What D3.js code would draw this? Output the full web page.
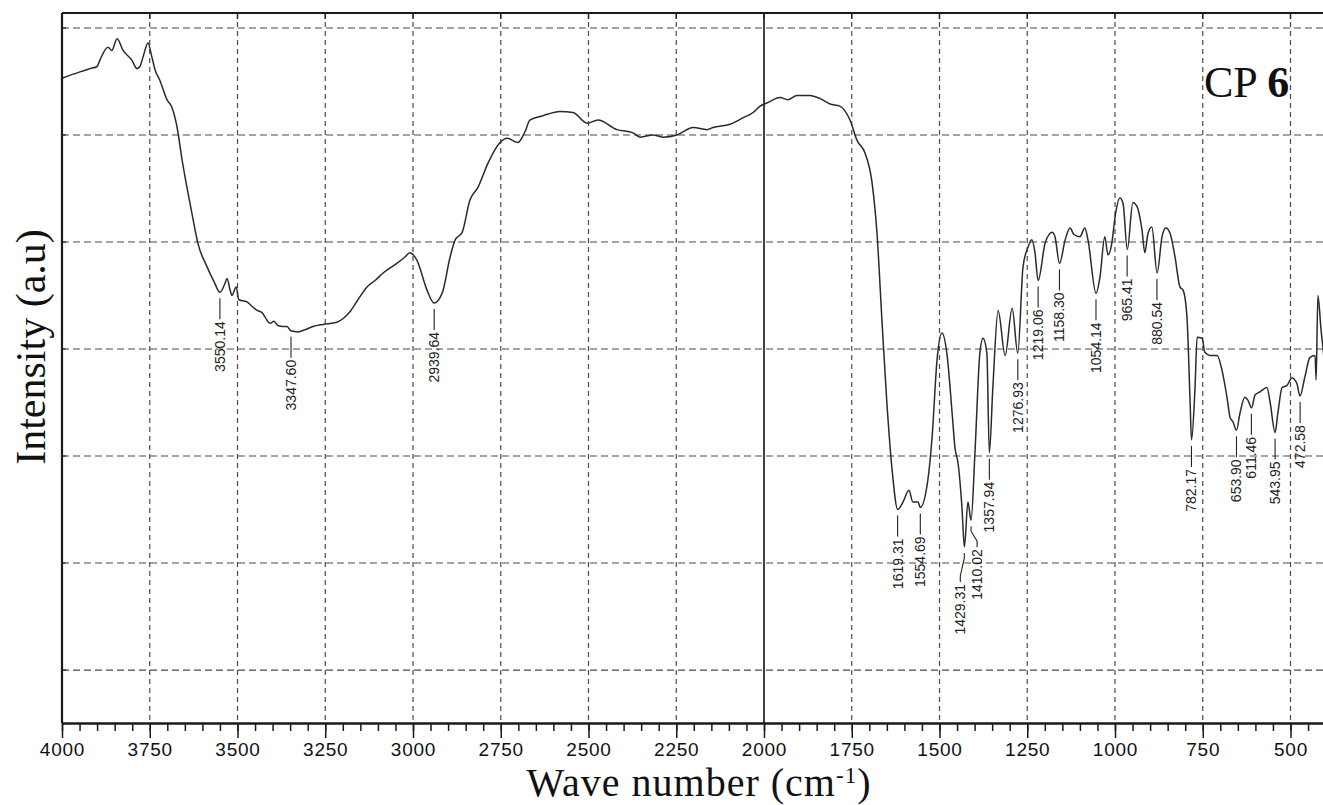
<!DOCTYPE html>
<html>
<head>
<meta charset="utf-8">
<script src="https://cdn.jsdelivr.net/npm/d3@7"></script>
<style>
  html, body { margin: 0; padding: 0; background: #fff; overflow: hidden; }
  svg { display: block; }
</style>
</head>
<body>
<svg id="chart" width="1323" height="805"></svg>
<script>
// FTIR spectrum of CP 6: [wavenumber (cm-1), intensity (a.u.)]
const spectrumPoints = [
  [4000,65.3],[3949,65.9],[3920,66.2],[3900,66.4],[3892,67.0],[3869,68.2],[3858,67.9],[3843,69.0],
  [3826,67.9],[3801,67.0],[3786,66.2],[3778,66.4],[3769,67.3],[3755,68.6],[3744,67.3],[3735,66.1],
  [3721,65.1],[3701,63.3],[3687,62.6],[3672,60.7],[3658,57.7],[3644,55.1],[3630,52.7],[3613,49.9],
  [3587,47.7],[3567,46.3],[3550,45.3],[3536,46.1],[3530,46.6],[3521,45.5],[3516,45.0],[3504,45.8],
  [3496,44.6],[3473,44.4],[3459,44.0],[3444,43.6],[3430,43.4],[3422,43.0],[3407,42.4],[3396,42.6],
  [3385,42.2],[3370,42.1],[3359,42.1],[3348,41.7],[3328,41.6],[3308,41.8],[3285,42.1],[3256,42.3],
  [3217,42.5],[3197,42.9],[3179,43.5],[3157,44.6],[3131,45.8],[3108,46.4],[3085,47.1],[3046,48.0],
  [3023,48.6],[3009,49.0],[2989,48.3],[2960,45.5],[2940,44.3],[2923,44.8],[2915,45.4],[2895,48.5],
  [2880,50.2],[2860,50.9],[2838,53.9],[2815,55.1],[2786,57.4],[2752,59.3],[2732,59.7],[2701,59.3],
  [2681,60.3],[2667,61.4],[2630,61.8],[2581,62.2],[2544,62.1],[2504,61.1],[2473,61.4],[2419,60.5],
  [2373,60.2],[2353,59.8],[2316,60.0],[2288,59.8],[2248,60.0],[2202,60.7],[2162,60.5],[2145,60.7],
  [2097,61.0],[2060,61.6],[2031,62.1],[2011,62.7],[1991,63.0],[1954,63.5],[1932,63.3],[1906,63.7],
  [1869,63.7],[1840,63.4],[1812,62.9],[1784,62.7],[1755,61.4],[1735,59.5],[1712,58.3],[1692,55.5],
  [1678,50.8],[1664,42.7],[1650,35.0],[1635,28.7],[1619,25.0],[1604,25.7],[1587,26.8],[1576,25.7],
  [1561,25.7],[1555,25.2],[1533,27.8],[1521,31.8],[1507,39.0],[1493,41.5],[1479,39.6],[1464,34.0],
  [1456,30.8],[1447,29.3],[1436,25.2],[1429,21.5],[1419,25.7],[1410,24.0],[1399,30.3],[1385,39.6],
  [1376,41.0],[1365,39.6],[1358,30.3],[1348,36.4],[1333,43.6],[1313,39.4],[1293,43.8],[1277,39.6],
  [1262,47.7],[1248,49.5],[1237,50.2],[1228,49.0],[1219,46.4],[1199,49.9],[1179,50.9],[1171,50.5],
  [1158,48.0],[1142,50.2],[1128,51.3],[1117,50.7],[1100,50.5],[1086,51.3],[1077,50.2],[1054,45.2],
  [1043,46.7],[1029,50.5],[1020,48.8],[1009,49.9],[1000,52.3],[986,54.1],[977,53.6],[965,49.3],
  [949,53.7],[937,53.3],[923,51.1],[915,49.0],[906,50.8],[895,51.4],[880,47.1],[866,50.5],
  [855,51.3],[843,50.8],[829,48.6],[815,45.8],[806,45.5],[795,43.0],[786,35.0],[782,31.5],
  [772,36.4],[766,41.1],[752,41.0],[744,39.7],[729,39.4],[709,39.4],[695,38.0],[681,35.5],
  [672,33.6],[664,33.2],[654,32.4],[644,34.0],[630,35.5],[621,35.2],[611,34.5],[601,35.7],
  [587,36.0],[567,36.4],[558,35.0],[544,32.2],[536,34.0],[524,36.4],[510,36.6],[496,37.3],
  [482,36.8],[473,35.6],[459,37.4],[445,39.2],[430,39.4],[427,37.1],[422,45.0],[413,41.8],
  [402,38.3],[400,37.5]
];

// Assigned absorption bands (cm-1)
const peakLabels = [
  "3550.14","3347.60","2939.64","1619.31","1554.69","1429.31","1410.02","1357.94",
  "1276.93","1219.06","1158.30","1054.14","965.41","880.54","782.17","653.90",
  "611.46","543.95","472.58"
];

const majorTicks = [4000,3750,3500,3250,3000,2750,2500,2250,2000,1750,1500,1250,1000,750,500];
const minorTicks = d3.range(4000, 399, -50);
const gridLevels = [10,20,30,40,50,60,70];
const splitWavenumber = 2000;

const xTitle = "Wave number (cm";
const yTitle = "Intensity (a.u)";
const sampleName = "CP";
const sampleNumber = "6";

// ---- layout ----
const svg = d3.select("#chart");
const plotLeft = 62, plotTop = 13, plotBottom = 723, plotRight = 1323;

const x = d3.scaleLinear().domain([4000, 400]).range([plotLeft, 1325.6]);
const y = d3.scaleLinear().domain([5.05, 71.4]).range([plotBottom, plotTop]);

const sans = "'Liberation Sans', Arial, Helvetica, sans-serif";
const serif = "'Liberation Serif', 'Times New Roman', Times, serif";
const gridColor = "#4a4a4a";

// grid
const grid = svg.append("g");
grid.selectAll("line.h").data(gridLevels).join("line")
  .attr("x1", plotLeft).attr("x2", plotRight)
  .attr("y1", d => y(d)).attr("y2", d => y(d))
  .attr("stroke", gridColor).attr("stroke-width", 1.2)
  .attr("stroke-dasharray", "7,4");
grid.selectAll("line.v").data(majorTicks.filter(d => d !== 4000 && d !== splitWavenumber)).join("line")
  .attr("x1", d => x(d)).attr("x2", d => x(d))
  .attr("y1", plotTop).attr("y2", plotBottom)
  .attr("stroke", gridColor).attr("stroke-width", 1.2)
  .attr("stroke-dasharray", "5,4");

// solid separator at 2000 cm-1
svg.append("line")
  .attr("x1", x(splitWavenumber)).attr("x2", x(splitWavenumber))
  .attr("y1", plotTop).attr("y2", plotBottom)
  .attr("stroke", "#111").attr("stroke-width", 1.6);

// top frame ticks
svg.append("g").selectAll("line").data(majorTicks.slice(1)).join("line")
  .attr("x1", d => x(d)).attr("x2", d => x(d))
  .attr("y1", plotTop).attr("y2", plotTop + 6)
  .attr("stroke", "#222").attr("stroke-width", 1.4);

// left frame ticks
svg.append("g").selectAll("line").data(gridLevels).join("line")
  .attr("x1", plotLeft).attr("x2", plotLeft + 4)
  .attr("y1", d => y(d)).attr("y2", d => y(d))
  .attr("stroke", "#222").attr("stroke-width", 1.2);

// spectrum
const spectrumLine = d3.line()
  .x(d => x(d[0])).y(d => y(d[1]))
  .curve(d3.curveMonotoneX);
svg.append("path")
  .datum(spectrumPoints)
  .attr("d", spectrumLine)
  .attr("fill", "none")
  .attr("stroke", "#2a2a2a")
  .attr("stroke-width", 1.5)
  .attr("stroke-linejoin", "round");

// frame
svg.append("line").attr("x1", plotLeft).attr("x2", plotRight).attr("y1", plotTop).attr("y2", plotTop)
  .attr("stroke", "#1a1a1a").attr("stroke-width", 2.2);
svg.append("line").attr("x1", plotLeft).attr("x2", plotLeft).attr("y1", plotTop).attr("y2", plotBottom)
  .attr("stroke", "#1a1a1a").attr("stroke-width", 2.2);

// bottom axis: minor then major ticks
const minorAxis = d3.axisBottom(x).tickValues(minorTicks).tickSize(8).tickSizeOuter(0).tickFormat("");
const majorAxis = d3.axisBottom(x).tickValues(majorTicks).tickSize(15).tickSizeOuter(0).tickPadding(4)
  .tickFormat(d3.format("d"));

const gMinor = svg.append("g").attr("transform", `translate(0,${plotBottom})`).call(minorAxis);
const gMajor = svg.append("g").attr("transform", `translate(0,${plotBottom})`).call(majorAxis);
[gMinor, gMajor].forEach(g => {
  g.select(".domain").attr("stroke", "#1a1a1a").attr("stroke-width", 1.8);
  g.selectAll(".tick line").attr("stroke", "#1a1a1a").attr("stroke-width", 1.5);
});
gMajor.selectAll(".tick text")
  .attr("fill", "#111")
  .attr("font-family", sans)
  .attr("font-size", 19)
  .attr("letter-spacing", "0.8px")
  .attr("dy", "0.72em");

// peak annotations
const layoutTweaks = { "1429.31": { drop: 8, dx: -4 }, "1410.02": { drop: 0, dx: 6 } };
const nearestValue = w => spectrumPoints.reduce((a, b) => Math.abs(b[0] - w) < Math.abs(a[0] - w) ? b : a)[1];
const ann = svg.append("g");
peakLabels.forEach(lbl => {
  const w = +lbl;
  const t = layoutTweaks[lbl] || { drop: 0, dx: 0 };
  const xp = x(w);
  const y0 = y(nearestValue(w)) + 6;
  const y1 = y0 + 21 + t.drop;
  const xt = xp + t.dx;
  const path = t.dx === 0
    ? `M${xp},${y0}V${y1}`
    : `M${xp},${y0}V${y0 + 5}L${xt},${y1 - 6}V${y1}`;
  ann.append("path").attr("d", path)
    .attr("fill", "none").attr("stroke", "#222").attr("stroke-width", 1.1);
  ann.append("text")
    .attr("transform", `translate(${xt + 5},${y1 + 2}) rotate(-90)`)
    .attr("text-anchor", "end")
    .attr("font-family", sans)
    .attr("font-size", 14)
    .attr("fill", "#222")
    .text(lbl);
});

// sample name
const sampleText = svg.append("text")
  .attr("x", 1204).attr("y", 97)
  .attr("font-family", serif).attr("font-size", 44).attr("fill", "#111");
sampleText.append("tspan").text(sampleName + " ");
sampleText.append("tspan").attr("font-weight", "bold").text(sampleNumber);

// axis titles
svg.append("text")
  .attr("transform", "translate(45,347) rotate(-90)")
  .attr("text-anchor", "middle")
  .attr("font-family", serif).attr("font-size", 42).attr("fill", "#111")
  .text(yTitle);

const xTitleText = svg.append("text")
  .attr("x", 699).attr("y", 796)
  .attr("text-anchor", "middle")
  .attr("font-family", serif).attr("font-size", 40).attr("letter-spacing", "1px").attr("fill", "#111");
xTitleText.append("tspan").text(xTitle);
xTitleText.append("tspan").attr("dy", -13).attr("font-size", 23).text("-1");
xTitleText.append("tspan").attr("dy", 13).text(")");
</script>
</body>
</html>
